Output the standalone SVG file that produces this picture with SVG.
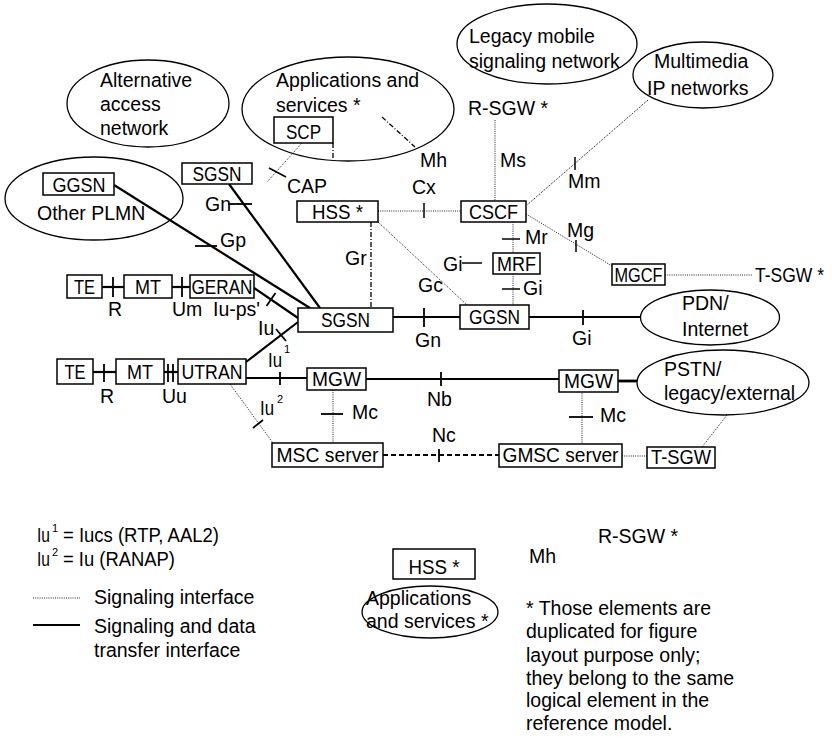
<svg xmlns="http://www.w3.org/2000/svg" width="832" height="744" viewBox="0 0 832 744">
  <style>
    text { font-family: "Liberation Sans", Arial, sans-serif; font-size: 19.5px; fill: #000; }
    text.c { text-anchor: middle; }
    text.sup { font-size: 11px; }
    .box { fill: #fff; stroke: #000; stroke-width: 1.5; }
    .ell { fill: none; stroke: #000; stroke-width: 1.3; }
    .data { stroke: #000; stroke-width: 2.2; fill: none; }
    .sig { stroke: #222; stroke-width: 1; stroke-dasharray: 1 1.2; fill: none; }
    .dd { stroke: #000; stroke-width: 1.3; stroke-dasharray: 5 2 1 2; fill: none; }
    .dash { stroke: #000; stroke-width: 1.8; stroke-dasharray: 5 3; fill: none; }
    .tick { stroke: #000; stroke-width: 1.8; }
    .thin { stroke: #000; stroke-width: 1.5; }
  </style>
  <rect width="832" height="744" fill="#fff"/>

  <!-- interfaces -->
  <g id="connectors">
    <!-- Gp: other PLMN GGSN to SGSN -->
    <line class="data" x1="114" y1="185" x2="310" y2="308"/>
    <line class="tick" x1="195" y1="246" x2="217" y2="246"/>
    <text x="220" y="247">Gp</text>
    <!-- Gn: second SGSN to SGSN -->
    <line class="data" x1="229" y1="184" x2="320" y2="308"/>
    <line class="tick" x1="228" y1="204" x2="252" y2="204"/>
    <text x="205" y="211">Gn</text>
    <!-- Iu-ps' -->
    <line class="data" x1="254" y1="288" x2="298" y2="318"/>
    <line class="tick" x1="266.5" y1="306" x2="275.5" y2="293"/>
    <text x="213" y="316">Iu-ps'</text>
    <!-- Iu: UTRAN to SGSN -->
    <line class="data" x1="246" y1="362" x2="298" y2="322"/>
    <line class="tick" x1="276" y1="329" x2="286" y2="341"/>
    <text x="258" y="335">Iu</text>
    <!-- Iu1: UTRAN to MGW -->
    <line class="data" x1="246" y1="378" x2="307" y2="378"/>
    <line class="tick" x1="280" y1="372" x2="280" y2="385"/>
    <text x="268" y="367" textLength="14" lengthAdjust="spacingAndGlyphs">Iu</text>
    <text class="sup" x="284" y="353">1</text>
    <!-- Nb -->
    <line class="data" x1="366" y1="379" x2="559" y2="379"/>
    <line class="tick" x1="441" y1="372" x2="441" y2="386"/>
    <text x="427" y="406">Nb</text>
    <!-- MGW to PSTN -->
    <line class="data" x1="618" y1="381" x2="637" y2="381" style="stroke-width:2.8"/>
    <!-- Gn: SGSN to GGSN -->
    <line class="data" x1="393" y1="317" x2="460" y2="317"/>
    <line class="tick" x1="424" y1="308" x2="424" y2="327"/>
    <text x="415" y="347">Gn</text>
    <!-- Gi: GGSN to PDN -->
    <line class="data" x1="529" y1="317" x2="640" y2="317"/>
    <line class="tick" x1="583" y1="310" x2="583" y2="325"/>
    <text x="572" y="345">Gi</text>
    <!-- Iu2: UTRAN to MSC server -->
    <line class="sig" x1="230" y1="384" x2="273" y2="443"/>
    <line class="tick" x1="253" y1="428" x2="263" y2="420"/>
    <text x="260" y="415" textLength="14" lengthAdjust="spacingAndGlyphs">Iu</text>
    <text class="sup" x="277" y="403">2</text>
    <!-- Mc (left) -->
    <line class="sig" x1="333" y1="390" x2="333" y2="443"/>
    <line class="tick" x1="321" y1="414" x2="343" y2="414"/>
    <text x="352" y="419">Mc</text>
    <!-- Mc (right) -->
    <line class="sig" x1="582" y1="391" x2="582" y2="444"/>
    <line class="tick" x1="569" y1="417" x2="593" y2="417"/>
    <text x="600" y="422">Mc</text>
    <!-- Nc -->
    <line class="dash" x1="383" y1="455" x2="499" y2="455"/>
    <line class="tick" x1="439" y1="449" x2="439" y2="462"/>
    <text x="432" y="442">Nc</text>
    <!-- GMSC to T-SGW, T-SGW to PSTN -->
    <line class="sig" x1="622" y1="456" x2="647" y2="456"/>
    <line class="sig" x1="702" y1="447" x2="727" y2="415"/>
    <!-- CAP -->
    <line class="sig" x1="302" y1="143" x2="267" y2="182"/>
    <line class="thin" x1="269" y1="168" x2="286" y2="177"/>
    <text x="287" y="193">CAP</text>
    <line class="dd" x1="333" y1="143" x2="333" y2="160"/>
    <!-- Mh -->
    <line class="dd" x1="382" y1="117" x2="415" y2="147"/>
    <text x="420" y="167">Mh</text>
    <!-- Cx -->
    <line class="sig" x1="378" y1="211" x2="461" y2="211"/>
    <line class="thin" x1="424" y1="203" x2="424" y2="218"/>
    <text x="412" y="194">Cx</text>
    <!-- Ms -->
    <line class="sig" x1="495" y1="120" x2="495" y2="201"/>
    <text x="500" y="167">Ms</text>
    <!-- Gr -->
    <line class="dd" x1="371" y1="222" x2="371" y2="308"/>
    <text x="345" y="265">Gr</text>
    <!-- Gc -->
    <line class="sig" x1="378" y1="222" x2="467" y2="305"/>
    <text x="418" y="292">Gc</text>
    <!-- Mr -->
    <line class="sig" x1="513" y1="222" x2="513" y2="253"/>
    <line class="thin" x1="502" y1="239" x2="520" y2="239"/>
    <text x="525" y="244">Mr</text>
    <!-- Gi: MRF to GGSN -->
    <line class="sig" x1="513" y1="274" x2="513" y2="305"/>
    <line class="thin" x1="502" y1="289" x2="520" y2="289"/>
    <text x="523" y="295">Gi</text>
    <!-- Gi: MRF external -->
    <line class="thin" x1="462" y1="263" x2="482" y2="263"/>
    <text x="443" y="271">Gi</text>
    <!-- Mm -->
    <line class="sig" x1="648" y1="100" x2="527" y2="205" style="stroke:#000"/>
    <line class="thin" x1="575" y1="157" x2="575" y2="170"/>
    <text x="568" y="188">Mm</text>
    <!-- Mg -->
    <line class="sig" x1="526" y1="214" x2="612" y2="266"/>
    <line class="thin" x1="576" y1="240" x2="576" y2="252"/>
    <text x="567" y="237">Mg</text>
    <!-- MGCF to T-SGW -->
    <line class="sig" x1="665" y1="275" x2="753" y2="275"/>
    <!-- R / Um -->
    <line class="data" x1="102" y1="287" x2="124" y2="287"/>
    <line class="tick" x1="113" y1="277" x2="113" y2="297"/>
    <text x="108" y="316">R</text>
    <line class="data" x1="172" y1="287" x2="190" y2="287"/>
    <line class="tick" x1="182" y1="277" x2="182" y2="297"/>
    <text x="172" y="316">Um</text>
    <!-- R / Uu -->
    <line class="data" x1="93" y1="372" x2="116" y2="372"/>
    <line class="tick" x1="104" y1="364" x2="104" y2="382"/>
    <text x="100" y="403">R</text>
    <line class="data" x1="164" y1="372" x2="178" y2="372"/>
    <line class="tick" x1="168" y1="364" x2="168" y2="382"/>
    <line class="tick" x1="173" y1="364" x2="173" y2="382"/>
    <text x="162" y="403">Uu</text>
  </g>

  <!-- networks and elements -->
  <g id="alt-access">
    <ellipse class="ell" cx="148" cy="103.5" rx="81" ry="43.5"/>
    <text x="100" y="87">Alternative</text>
    <text x="100" y="111">access</text>
    <text x="100" y="135">network</text>
  </g>
  <g id="apps">
    <ellipse class="ell" cx="348" cy="109" rx="106" ry="52"/>
    <text x="276" y="87">Applications and</text>
    <text x="276" y="112">services *</text>
  </g>
  <g id="scp">
    <rect class="box" x="274" y="117" width="59" height="26"/>
    <text class="c" x="303.5" y="139" textLength="35" lengthAdjust="spacingAndGlyphs">SCP</text>
  </g>
  <g id="legacy">
    <ellipse class="ell" cx="547" cy="44" rx="90" ry="40"/>
    <text x="469" y="43">Legacy mobile</text>
    <text x="469" y="68">signaling network</text>
  </g>
  <g id="multimedia">
    <ellipse class="ell" cx="703" cy="75" rx="70" ry="33"/>
    <text x="654" y="68">Multimedia</text>
    <text x="647" y="95">IP networks</text>
  </g>
  <g id="r-sgw">
    <text x="468" y="115">R-SGW *</text>
  </g>
  <g id="other-plmn">
    <ellipse class="ell" cx="94" cy="198.5" rx="89" ry="41.5"/>
    <rect class="box" x="43" y="173" width="71" height="22"/>
    <text class="c" x="79" y="192" textLength="53" lengthAdjust="spacingAndGlyphs">GGSN</text>
    <text x="37" y="220">Other PLMN</text>
  </g>
  <g id="sgsn-2">
    <rect class="box" x="182" y="163" width="70" height="21"/>
    <text class="c" x="217" y="181" textLength="49" lengthAdjust="spacingAndGlyphs">SGSN</text>
  </g>
  <g id="hss">
    <rect class="box" x="297" y="201" width="81" height="21"/>
    <text class="c" x="337.5" y="219" textLength="51" lengthAdjust="spacingAndGlyphs">HSS *</text>
  </g>
  <g id="cscf">
    <rect class="box" x="461" y="201" width="65" height="21"/>
    <text class="c" x="493.5" y="219" textLength="49" lengthAdjust="spacingAndGlyphs">CSCF</text>
  </g>
  <g id="mrf">
    <rect class="box" x="493" y="253" width="47" height="21"/>
    <text class="c" x="516.5" y="271" textLength="39" lengthAdjust="spacingAndGlyphs">MRF</text>
  </g>
  <g id="mgcf">
    <rect class="box" x="612" y="264" width="53" height="21"/>
    <text class="c" x="638.5" y="282" textLength="48" lengthAdjust="spacingAndGlyphs">MGCF</text>
  </g>
  <g id="t-sgw-label">
    <text x="755" y="282" textLength="69" lengthAdjust="spacingAndGlyphs">T-SGW *</text>
  </g>
  <g id="te-1">
    <rect class="box" x="67" y="275" width="35" height="23"/>
    <text class="c" x="84.5" y="294" textLength="21" lengthAdjust="spacingAndGlyphs">TE</text>
  </g>
  <g id="mt-1">
    <rect class="box" x="124" y="275" width="48" height="23"/>
    <text class="c" x="148" y="294" textLength="26" lengthAdjust="spacingAndGlyphs">MT</text>
  </g>
  <g id="geran">
    <rect class="box" x="190" y="275" width="64" height="23"/>
    <text class="c" x="222" y="294" textLength="61" lengthAdjust="spacingAndGlyphs">GERAN</text>
  </g>
  <g id="sgsn">
    <rect class="box" x="298" y="308" width="95" height="24"/>
    <text class="c" x="345.5" y="327" textLength="49" lengthAdjust="spacingAndGlyphs">SGSN</text>
  </g>
  <g id="ggsn">
    <rect class="box" x="460" y="305" width="69" height="24"/>
    <text class="c" x="494.5" y="324" textLength="51" lengthAdjust="spacingAndGlyphs">GGSN</text>
  </g>
  <g id="pdn">
    <ellipse class="ell" cx="710" cy="317.5" rx="69.5" ry="27.5"/>
    <text x="682" y="310">PDN/</text>
    <text x="682" y="336">Internet</text>
  </g>
  <g id="te-2">
    <rect class="box" x="57" y="359" width="36" height="25"/>
    <text class="c" x="75" y="379" textLength="21" lengthAdjust="spacingAndGlyphs">TE</text>
  </g>
  <g id="mt-2">
    <rect class="box" x="116" y="359" width="48" height="25"/>
    <text class="c" x="140" y="379" textLength="26" lengthAdjust="spacingAndGlyphs">MT</text>
  </g>
  <g id="utran">
    <rect class="box" x="178" y="359" width="68" height="25"/>
    <text class="c" x="212" y="379" textLength="61" lengthAdjust="spacingAndGlyphs">UTRAN</text>
  </g>
  <g id="mgw-1">
    <rect class="box" x="307" y="368" width="59" height="22"/>
    <text class="c" x="336.5" y="386" textLength="49" lengthAdjust="spacingAndGlyphs">MGW</text>
  </g>
  <g id="mgw-2">
    <rect class="box" x="559" y="370" width="59" height="22"/>
    <text class="c" x="588.5" y="388" textLength="49" lengthAdjust="spacingAndGlyphs">MGW</text>
  </g>
  <g id="pstn">
    <ellipse class="ell" cx="723" cy="382.5" rx="86" ry="32.5"/>
    <text x="664" y="376">PSTN/</text>
    <text x="664" y="400">legacy/external</text>
  </g>
  <g id="msc-server">
    <rect class="box" x="272" y="443" width="111" height="24"/>
    <text class="c" x="327.5" y="462" textLength="102" lengthAdjust="spacingAndGlyphs">MSC server</text>
  </g>
  <g id="gmsc-server">
    <rect class="box" x="499" y="444" width="123" height="23"/>
    <text class="c" x="560.5" y="462" textLength="116" lengthAdjust="spacingAndGlyphs">GMSC server</text>
  </g>
  <g id="t-sgw">
    <rect class="box" x="647" y="447" width="68" height="21"/>
    <text class="c" x="681" y="464" textLength="60" lengthAdjust="spacingAndGlyphs">T-SGW</text>
  </g>

  <!-- legend -->
  <g id="legend">
    <text x="37" y="542" textLength="13" lengthAdjust="spacingAndGlyphs">Iu</text>
    <text class="sup" x="52" y="532">1</text>
    <text x="63" y="542" textLength="156" lengthAdjust="spacingAndGlyphs">= Iucs (RTP, AAL2)</text>
    <text x="37" y="566" textLength="13" lengthAdjust="spacingAndGlyphs">Iu</text>
    <text class="sup" x="52" y="556">2</text>
    <text x="63" y="566" textLength="112" lengthAdjust="spacingAndGlyphs">= Iu (RANAP)</text>
    <line class="sig" x1="33" y1="598" x2="80" y2="598"/>
    <text x="94" y="604">Signaling interface</text>
    <line class="data" x1="33" y1="625" x2="80" y2="625"/>
    <text x="94" y="633">Signaling and data</text>
    <text x="94" y="657">transfer interface</text>
  </g>
  <g id="hss-dup">
    <rect class="box" x="393" y="549" width="82" height="30"/>
    <text class="c" x="434" y="574" textLength="51" lengthAdjust="spacingAndGlyphs">HSS *</text>
  </g>
  <g id="apps-dup">
    <ellipse class="ell" cx="430" cy="612" rx="68" ry="26"/>
    <text x="366" y="605">Applications</text>
    <text x="366" y="628">and services *</text>
  </g>
  <g id="dup-labels">
    <text x="598" y="543">R-SGW *</text>
    <text x="529" y="563">Mh</text>
  </g>
  <g id="footnote">
    <text x="526" y="615">* Those elements are</text>
    <text x="526" y="638">duplicated for figure</text>
    <text x="526" y="662">layout purpose only;</text>
    <text x="526" y="685">they belong to the same</text>
    <text x="526" y="707">logical element in the</text>
    <text x="526" y="730">reference model.</text>
  </g>
</svg>
